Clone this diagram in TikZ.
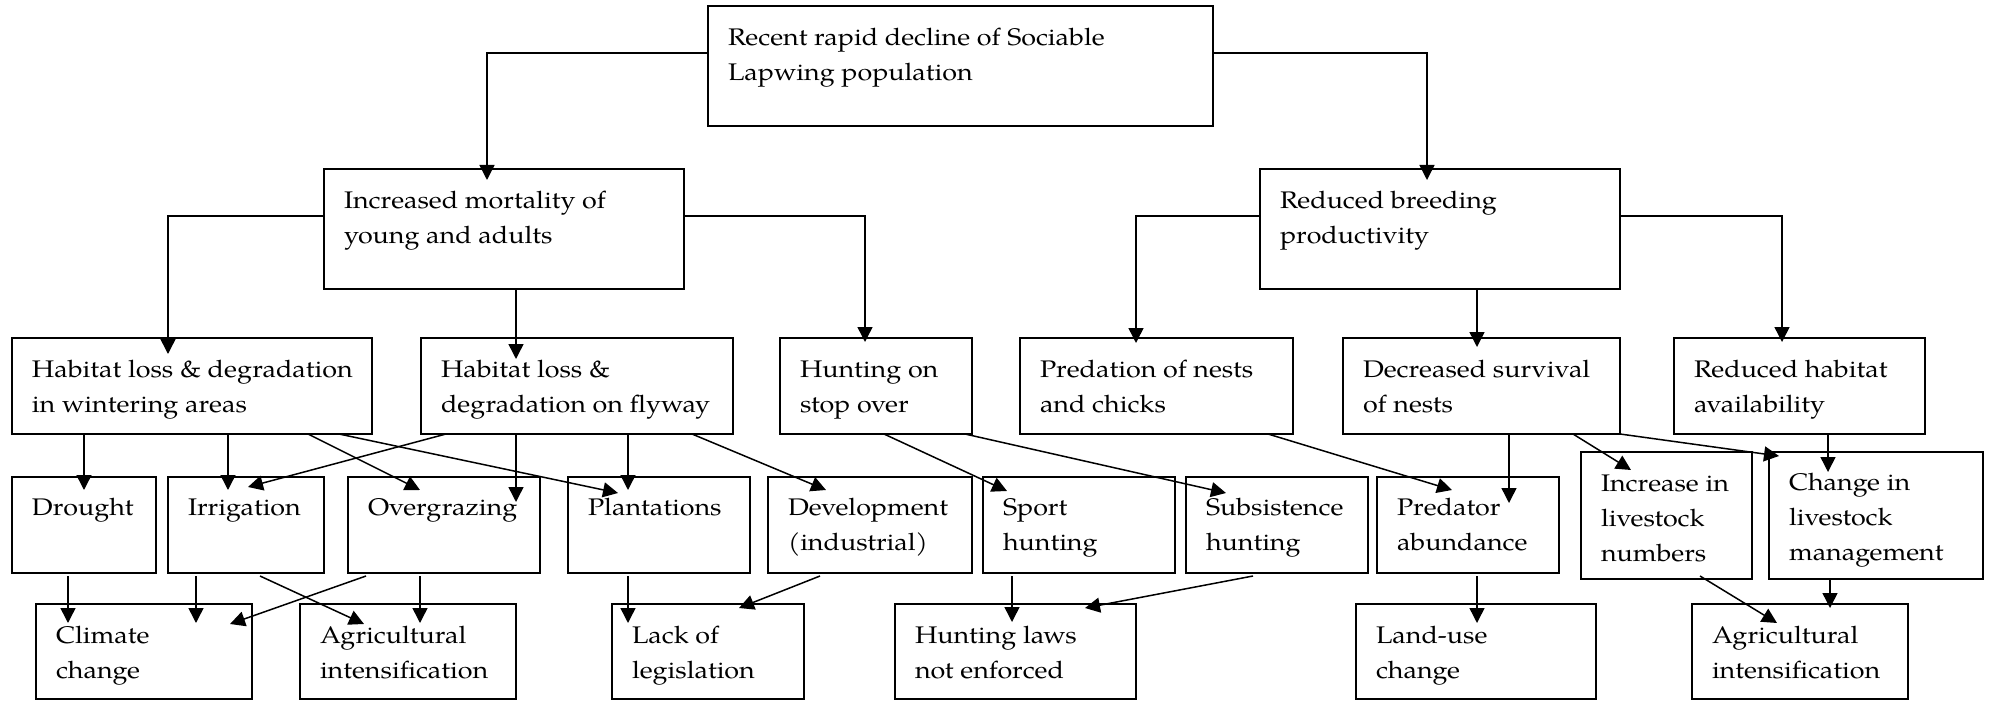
\documentclass[tikz,border=0pt]{standalone}
\usepackage{fontspec}
\setmainfont{TeX Gyre Pagella}[FakeStretch=1.12]
\usetikzlibrary{arrows.meta,calc,fit}
\tikzset{
  box/.style={draw=black, line width=1pt, inner sep=0pt, outer sep=0pt},
  txt/.style={inner sep=0pt, outer sep=0pt, anchor=north west, align=left, font=\fontsize{12}{17.5}\selectfont},
  arr/.style={draw=black, line width=0.75pt, -{Triangle[length=7.5pt,width=7.5pt]}},
}
% name, x1, y1, x2, y2, baseline offset, text
\newcommand\mkbox[7]{%
  \coordinate (#1-a) at (#2,#3);
  \coordinate (#1-b) at (#4,#5);
  \node[box, fit=(#1-a)(#1-b)] (#1) {};
  \node[txt] (#1-t) at ($(#1.north west)+(20,#6-24.5)$) {\strut #7};
}
\begin{document}
\begin{tikzpicture}[x=0.5pt, y=-0.5pt]
\useasboundingbox (0,0) rectangle (1993,701);
% row 0 and 1
\mkbox{top}{708}{6}{1213}{126}{40}{Recent rapid decline of Sociable\\Lapwing population}
\mkbox{mort}{324}{169}{684}{289}{39}{Increased mortality of\\young and adults}
\mkbox{breed}{1260}{169}{1620}{289}{39}{Reduced breeding\\productivity}
% row 2
\mkbox{wint}{12}{338}{372}{434}{39}{Habitat loss \& degradation\\in wintering areas}
\mkbox{fly}{421}{338}{733}{434}{39}{Habitat loss \&\\degradation on flyway}
\mkbox{hunt}{780}{338}{972}{434}{39}{Hunting on\\stop over}
\mkbox{pred}{1020}{338}{1293}{434}{39}{Predation of nests\\and chicks}
\mkbox{decr}{1343}{338}{1620}{434}{39}{Decreased survival\\of nests}
\mkbox{redh}{1674}{338}{1925}{434}{39}{Reduced habitat\\availability}
% row 3
\mkbox{drought}{12}{477}{156}{573}{38}{Drought}
\mkbox{irrig}{168}{477}{324}{573}{38}{Irrigation}
\mkbox{overg}{348}{477}{540}{573}{38}{Overgrazing}
\mkbox{plant}{568}{477}{750}{573}{38}{Plantations}
\mkbox{devel}{768}{477}{972}{573}{38}{Development\\(industrial)}
\mkbox{sport}{983}{477}{1175}{573}{38}{Sport\\hunting}
\mkbox{subs}{1186}{477}{1368}{573}{38}{Subsistence\\hunting}
\mkbox{predab}{1377}{477}{1559}{573}{38}{Predator\\abundance}
\mkbox{incr}{1581}{452}{1752}{579}{39}{Increase in\\livestock\\numbers}
\mkbox{chg}{1769}{452}{1983}{579}{38}{Change in\\livestock\\management}
% row 4
\mkbox{clim}{36}{604}{252}{699}{39}{Climate\\change}
\mkbox{agrione}{300}{604}{516}{699}{39}{Agricultural\\intensification}
\mkbox{lack}{612}{604}{804}{699}{39}{Lack of\\legislation}
\mkbox{hlaw}{895}{604}{1136}{699}{39}{Hunting laws\\not enforced}
\mkbox{land}{1356}{604}{1596}{699}{39}{Land-use\\change}
\mkbox{agritwo}{1692}{604}{1908}{699}{39}{Agricultural\\intensification}
% elbow connectors
\draw[arr] (top.west |- 0,53) -| ($(mort.north -| 487,0)+(0,11)$);
\draw[arr] (top.east |- 0,53) -| ($(breed.north -| 1427,0)+(0,11)$);
\draw[arr] (mort.west |- 0,216) -| ($(wint.north -| 168,0)+(0,16)$);
\draw[arr] (mort.south -| 516,0) -- ($(fly.north -| 516,0)+(0,21)$);
\draw[arr] (mort.east |- 0,216) -| ($(hunt.north -| 865,0)+(0,4)$);
\draw[arr] (breed.west |- 0,216) -| ($(pred.north -| 1136,0)+(0,5)$);
\draw[arr] (breed.south -| 1477,0) -- ($(decr.north -| 1477,0)+(0,9)$);
\draw[arr] (breed.east |- 0,216) -| ($(redh.north -| 1782,0)+(0,4)$);
% row 2 -> row 3
\draw[arr] (wint.south -| 84,0) -- ($(drought.north -| 84,0)+(0,13)$);
\draw[arr] (wint.south -| 228,0) -- ($(irrig.north -| 228,0)+(0,13)$);
\draw[arr] (wint.south -| 308,0) -- ($(overg.north -| 420,0)+(0,13)$);
\draw[arr] (wint.south -| 339,0) -- ($(plant.north -| 618,0)+(0,16)$);
\draw[arr] (fly.south -| 446,0) -- ($(irrig.north -| 248,0)+(0,10)$);
\draw[arr] (fly.south -| 516,0) -- ($(overg.north -| 516,0)+(0,25)$);
\draw[arr] (fly.south -| 628,0) -- ($(plant.north -| 628,0)+(0,13)$);
\draw[arr] (fly.south -| 692,0) -- ($(devel.north -| 826,0)+(0,13)$);
\draw[arr] (hunt.south -| 884,0) -- ($(sport.north -| 1007,0)+(0,14)$);
\draw[arr] (hunt.south -| 965,0) -- ($(subs.north -| 1226,0)+(0,16)$);
\draw[arr] (pred.south -| 1268,0) -- ($(predab.north -| 1452,0)+(0,13)$);
\draw[arr] (decr.south -| 1509,0) -- ($(predab.north -| 1509,0)+(0,26)$);
\draw[arr] (decr.south -| 1573,0) -- ($(incr.north -| 1631,0)+(0,18)$);
\draw[arr] (decr.south -| 1620,0) -- ($(chg.north -| 1779,0)+(0,4)$);
\draw[arr] (redh.south -| 1828,0) -- ($(chg.north -| 1828,0)+(0,20)$);
% row 3 -> row 4
\draw[arr] ($(drought.south -| 68,0)+(0,3)$) -- ($(clim.north -| 68,0)+(0,19)$);
\draw[arr] ($(irrig.south -| 196,0)+(0,3)$) -- ($(clim.north -| 196,0)+(0,19)$);
\draw[arr] ($(overg.south -| 366,0)+(0,3)$) -- ($(clim.north -| 230,0)+(0,20)$);
\draw[arr] ($(irrig.south -| 260,0)+(0,3)$) -- ($(agrione.north -| 364,0)+(0,20)$);
\draw[arr] ($(overg.south -| 420,0)+(0,3)$) -- ($(agrione.north -| 420,0)+(0,19)$);
\draw[arr] ($(plant.south -| 628,0)+(0,3)$) -- ($(lack.north -| 628,0)+(0,19)$);
\draw[arr] ($(devel.south -| 820,0)+(0,3)$) -- ($(lack.north -| 739,0)+(0,4)$);
\draw[arr] ($(sport.south -| 1012,0)+(0,3)$) -- ($(hlaw.north -| 1012,0)+(0,18)$);
\draw[arr] ($(subs.south -| 1253,0)+(0,3)$) -- ($(hlaw.north -| 1085,0)+(0,4)$);
\draw[arr] ($(predab.south -| 1477,0)+(0,3)$) -- ($(land.north -| 1477,0)+(0,19)$);
\draw[arr] ($(incr.south -| 1700,0)+(0,-3)$) -- ($(agritwo.north -| 1777,0)+(0,19)$);
\draw[arr] (chg.south -| 1830,0) -- ($(agritwo.north -| 1830,0)+(0,4)$);
\end{tikzpicture}
\end{document}
